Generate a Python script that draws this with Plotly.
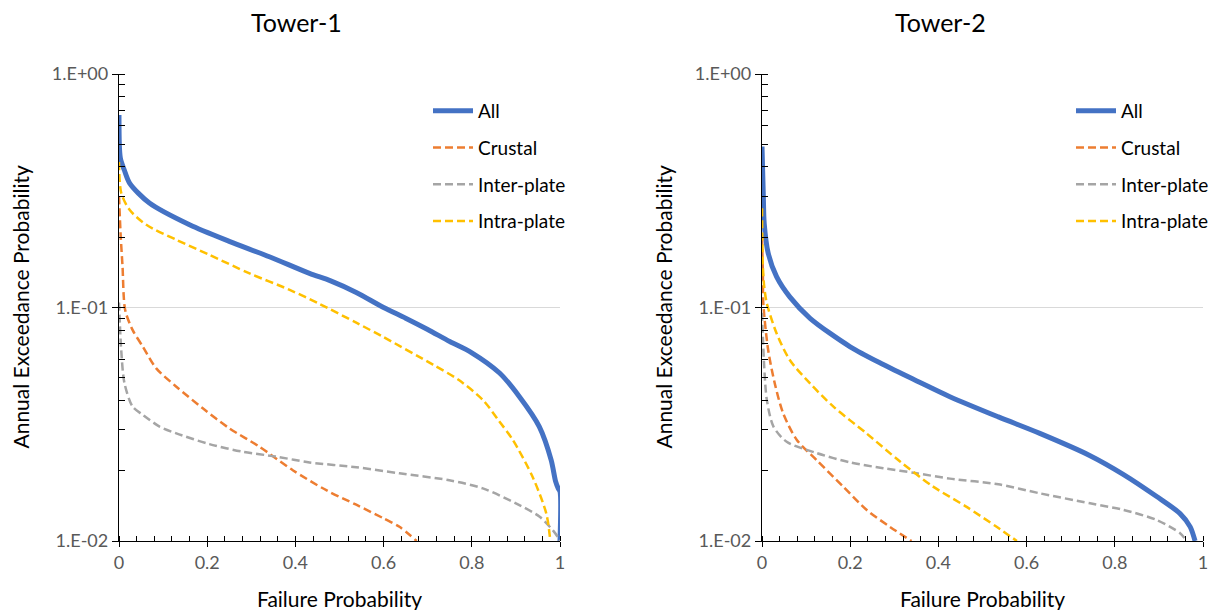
import plotly.graph_objects as go

# ---------------- data ----------------
# Tower-1
t1_all_x = [0, 0.003, 0.012, 0.024, 0.069, 0.16, 0.25, 0.341, 0.432, 0.48, 0.538, 0.6, 0.65, 0.7, 0.75, 0.8, 0.863, 0.908, 0.953, 0.98, 0.99, 0.996, 1.0, 1.0]
t1_all_y = [0.667, 0.437, 0.388, 0.341, 0.280, 0.226, 0.192, 0.165, 0.140, 0.130, 0.116, 0.100, 0.090, 0.0805, 0.0715, 0.0640, 0.0524, 0.0415, 0.0309, 0.0222, 0.0180, 0.0168, 0.0163, 0.01]

t1_cru_x = [0, 0.004, 0.008, 0.014, 0.031, 0.054, 0.084, 0.13, 0.19, 0.25, 0.319, 0.394, 0.47, 0.538, 0.6, 0.636, 0.675]
t1_cru_y = [0.30, 0.20, 0.15, 0.0976, 0.080, 0.068, 0.055, 0.0458, 0.037, 0.0304, 0.0253, 0.0201, 0.0165, 0.0143, 0.0125, 0.0115, 0.01]

t1_inter_x = [0, 0.002, 0.005, 0.0125, 0.031, 0.054, 0.092, 0.13, 0.205, 0.281, 0.356, 0.432, 0.538, 0.636, 0.749, 0.825, 0.9, 0.954, 0.984, 0.995, 1.0]
t1_inter_y = [0.105, 0.085, 0.0658, 0.0473, 0.0376, 0.0347, 0.0309, 0.0289, 0.026, 0.0241, 0.023, 0.0217, 0.0207, 0.0195, 0.0182, 0.0168, 0.0145, 0.0127, 0.0111, 0.0104, 0.01]

t1_intra_x = [0, 0.005, 0.024, 0.062, 0.13, 0.205, 0.296, 0.387, 0.455, 0.538, 0.598, 0.712, 0.77, 0.825, 0.86, 0.893, 0.938, 0.969, 0.978]
t1_intra_y = [0.42, 0.31, 0.262, 0.226, 0.195, 0.168, 0.140, 0.119, 0.1035, 0.0861, 0.075, 0.0569, 0.049, 0.0402, 0.033, 0.0271, 0.0188, 0.0131, 0.01]

# Tower-2
t2_all_x = [0, 0.003, 0.005, 0.014, 0.033, 0.063, 0.109, 0.2, 0.275, 0.351, 0.426, 0.536, 0.63, 0.744, 0.819, 0.895, 0.948, 0.971, 0.982]
t2_all_y = [0.489, 0.30, 0.229, 0.171, 0.1355, 0.111, 0.0899, 0.0679, 0.0570, 0.0485, 0.0415, 0.034, 0.0289, 0.0232, 0.0193, 0.0155, 0.0131, 0.0115, 0.01]

t2_cru_x = [0, 0.002, 0.003, 0.014, 0.029, 0.048, 0.079, 0.124, 0.184, 0.237, 0.29, 0.339]
t2_cru_y = [0.20, 0.14, 0.104, 0.0658, 0.0473, 0.0352, 0.0271, 0.0222, 0.0171, 0.0136, 0.0115, 0.01]

t2_inter_x = [0, 0.002, 0.005, 0.011, 0.026, 0.056, 0.124, 0.2, 0.275, 0.351, 0.426, 0.536, 0.63, 0.744, 0.819, 0.895, 0.948, 0.963]
t2_inter_y = [0.095, 0.075, 0.0558, 0.0402, 0.0309, 0.0266, 0.0238, 0.0217, 0.0205, 0.0195, 0.0185, 0.0175, 0.016, 0.0145, 0.0136, 0.0123, 0.0108, 0.01]

t2_intra_x = [0, 0.002, 0.005, 0.011, 0.033, 0.063, 0.109, 0.162, 0.237, 0.313, 0.388, 0.464, 0.532, 0.578]
t2_intra_y = [0.266, 0.15, 0.123, 0.104, 0.0776, 0.0596, 0.0473, 0.0376, 0.0289, 0.0219, 0.0171, 0.014, 0.0115, 0.01]

series_names = ["All", "Crustal", "Inter-plate", "Intra-plate"]
panel_titles = ["Tower-1", "Tower-2"]
x_title = "Failure Probability"
y_title = "Annual Exceedance Probability"
x_tickvals = [0, 0.2, 0.4, 0.6, 0.8, 1]
x_ticktext = ["0", "0.2", "0.4", "0.6", "0.8", "1"]
y_tickvals = [0.01, 0.1, 1]
y_ticktext = ["1.E-02", "1.E-01", "1.E+00"]

# ---------------- styling ----------------
FONT = "Lato"
COLORS = ["#4472C4", "#ED7D31", "#A5A5A5", "#FFC000"]
WIDTHS = [5, 2.5, 2.5, 2.5]
DASHES = ["solid", "8px,4px", "8px,4px", "8px,4px"]

W, H = 1215, 610
fig = go.Figure()

panels = [
    ([(t1_all_x, t1_all_y), (t1_cru_x, t1_cru_y), (t1_inter_x, t1_inter_y), (t1_intra_x, t1_intra_y)], "x", "y", "legend"),
    ([(t2_all_x, t2_all_y), (t2_cru_x, t2_cru_y), (t2_inter_x, t2_inter_y), (t2_intra_x, t2_intra_y)], "x2", "y2", "legend2"),
]
for data, xa, ya, lg in panels:
    for i, (xs, ys) in enumerate(data):
        fig.add_trace(go.Scatter(
            x=xs, y=ys, mode="lines", name=series_names[i],
            line=dict(color=COLORS[i], width=WIDTHS[i], dash=DASHES[i], shape="spline", smoothing=0.8),
            xaxis=xa, yaxis=ya, legend=lg, legendgroup=lg + str(i),
        ))

# plot-area geometry (pixels)
L1, R1 = 119, 560
L2, R2 = 762, 1203
TOP, BOT = 74, 541
ydom = [(H - BOT) / H, (H - TOP) / H]

tickfont = dict(family=FONT, size=18, color="#595959")

def xaxis(dom, anchor):
    return dict(domain=dom, anchor=anchor, range=[0, 1], tickmode="array", automargin=False,
                tickvals=x_tickvals, ticktext=x_ticktext, ticks="outside", ticklen=5,
                tickcolor="black", tickwidth=1, showline=True, linecolor="black", linewidth=1.3,
                showgrid=False, zeroline=False, tickfont=tickfont,
                minor=dict(ticks="inside", ticklen=5, tickcolor="black", tickwidth=1,
                           tick0=0, dtick=0.04, showgrid=False))

def yaxis(anchor):
    return dict(domain=ydom, anchor=anchor, type="log", range=[-2, 0], tickmode="array", automargin=False,
                tickvals=y_tickvals, ticktext=y_ticktext, ticks="outside", ticklen=6,
                tickcolor="black", tickwidth=1, showline=True, linecolor="black", linewidth=1.3,
                showgrid=True, gridcolor="#D9D9D9", gridwidth=1, zeroline=False, tickfont=tickfont,
                minor=dict(ticks="inside", ticklen=6, tickcolor="black", tickwidth=1,
                           dtick="D1", showgrid=False))

legend_common = dict(font=dict(family=FONT, size=19, color="black"), bgcolor="rgba(0,0,0,0)",
                     tracegroupgap=9, xanchor="left", yanchor="top", itemwidth=40)

fig.update_layout(
    width=W, height=H, margin=dict(l=0, r=0, t=0, b=0, autoexpand=False),
    paper_bgcolor="white", plot_bgcolor="white",
    font=dict(family=FONT),
    xaxis=xaxis([L1 / W, R1 / W], "y"),
    yaxis=yaxis("x"),
    xaxis2=xaxis([L2 / W, R2 / W], "y2"),
    yaxis2=yaxis("x2"),
    legend=dict(x=(478 - 50) / W, y=(H - 92) / H, **legend_common),
    legend2=dict(x=(1121 - 50) / W, y=(H - 92) / H, **legend_common),
    showlegend=True,
)

annots = []
for cx, title in [(296, panel_titles[0]), (940, panel_titles[1])]:
    annots.append(dict(text=title, x=cx / W, y=(H - 22) / H, xref="paper", yref="paper",
                       showarrow=False, xanchor="center", yanchor="middle",
                       font=dict(family=FONT, size=25, color="black")))
for cx in [(L1 + R1) / 2, (L2 + R2) / 2]:
    annots.append(dict(text=x_title, x=cx / W, y=(H - 598) / H, xref="paper", yref="paper",
                       showarrow=False, xanchor="center", yanchor="middle",
                       font=dict(family=FONT, size=21, color="black")))
for cx in [20, 663]:
    annots.append(dict(text=y_title, x=cx / W, y=(H - (TOP + BOT) / 2) / H, xref="paper", yref="paper",
                       showarrow=False, xanchor="center", yanchor="middle", textangle=-90,
                       font=dict(family=FONT, size=21, color="black")))
fig.update_layout(annotations=annots)

fig.write_html("out.html", config={"displayModeBar": False},
               post_script="document.body.style.margin='0';document.body.style.overflow='hidden';")
